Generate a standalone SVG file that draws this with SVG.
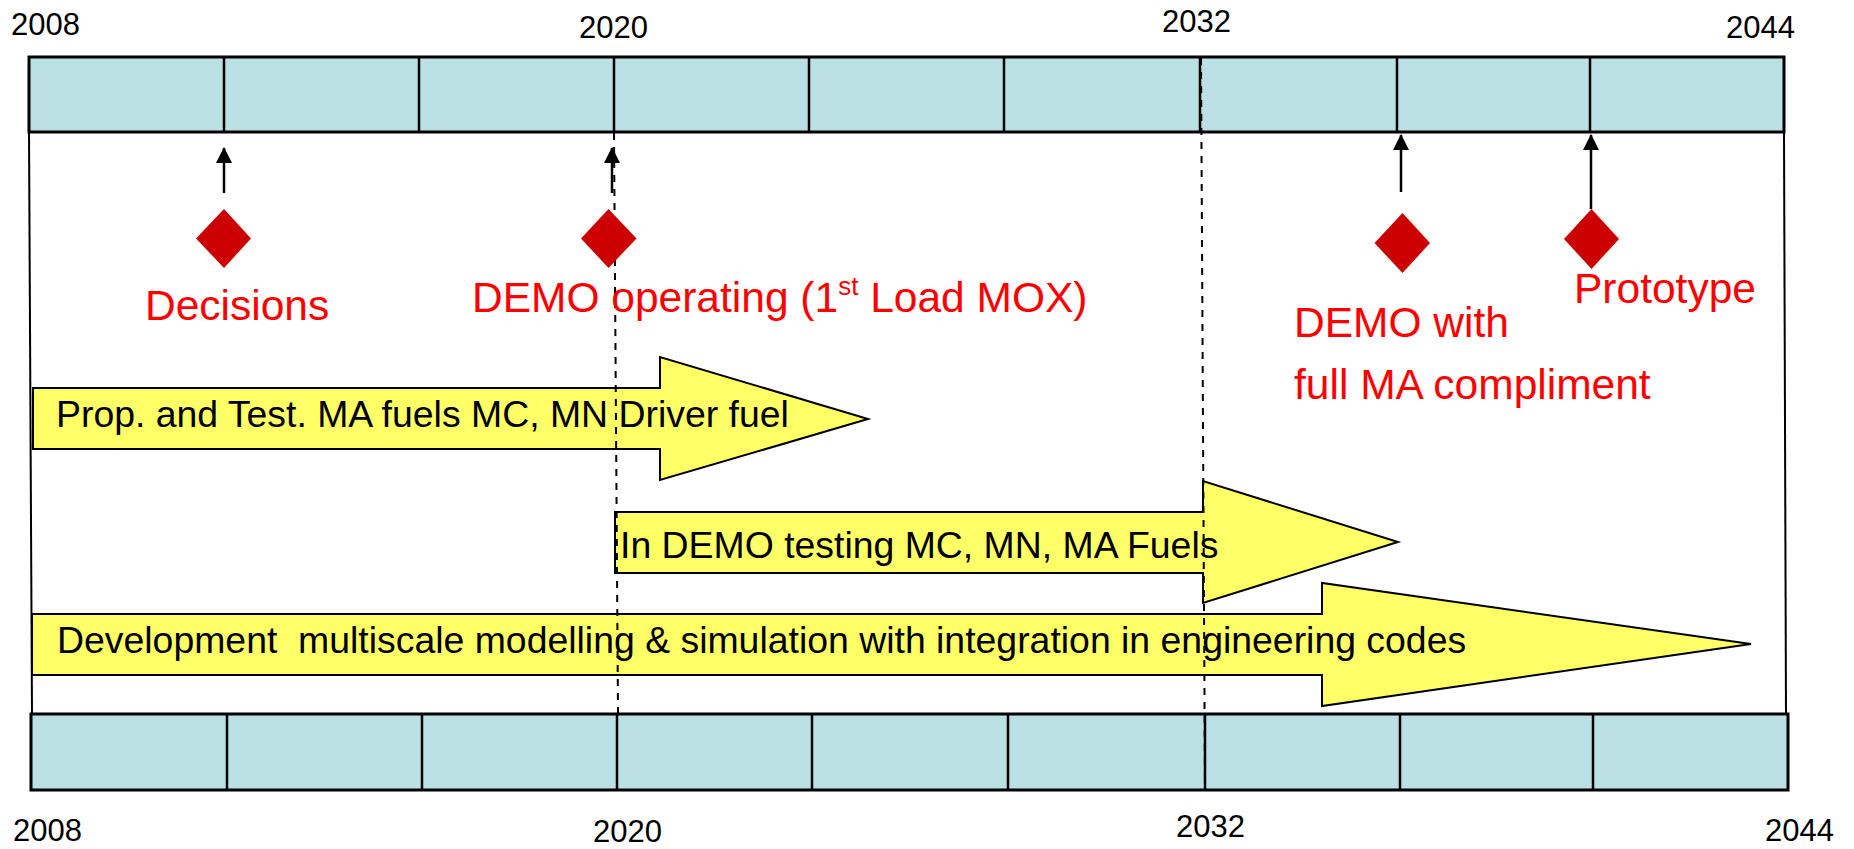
<svg xmlns="http://www.w3.org/2000/svg" width="1854" height="849" viewBox="0 0 1854 849">
<defs>
<style>
.bar{fill:#BAE0E3;stroke:#000;stroke-width:3}
.div{stroke:#000;stroke-width:2.5}
.frame{stroke:#000;stroke-width:2;fill:none}
.dash{stroke:#000;stroke-width:2;stroke-dasharray:7,7;fill:none}
.act{fill:#FFFF66;stroke:#000;stroke-width:2}
.actt{font-family:"Liberation Sans",Arial,sans-serif;font-size:37.4px;fill:#000}
.year{font-family:"Liberation Sans",Arial,sans-serif;font-size:31px;fill:#000}
.lbl{font-family:"Liberation Sans",Arial,sans-serif;font-size:42.5px;fill:#FF0000}
.dia{fill:#CC0000}
.up{stroke:#000;stroke-width:2.5;fill:none;marker-end:url(#ah)}
</style>
<marker id="ah" markerUnits="userSpaceOnUse" viewBox="0 0 16 16" refX="15" refY="8" markerWidth="16" markerHeight="16" orient="auto">
<path d="M0,0 L16,8 L0,16 z" fill="#000"/>
</marker>
</defs>
<rect width="1854" height="849" fill="#fff"/>

<g id="top-timeline">
<rect class="bar" x="29" y="57" width="1755" height="75"/>
<line class="div" x1="224" y1="57" x2="224" y2="132"/>
<line class="div" x1="419" y1="57" x2="419" y2="132"/>
<line class="div" x1="614" y1="57" x2="614" y2="132"/>
<line class="div" x1="809" y1="57" x2="809" y2="132"/>
<line class="div" x1="1004" y1="57" x2="1004" y2="132"/>
<line class="div" x1="1200" y1="57" x2="1200" y2="132"/>
<line class="div" x1="1397" y1="57" x2="1397" y2="132"/>
<line class="div" x1="1590" y1="57" x2="1590" y2="132"/>
<text class="year" x="11" y="35">2008</text>
<text class="year" x="579" y="38">2020</text>
<text class="year" x="1162" y="32">2032</text>
<text class="year" x="1726" y="38">2044</text>
</g>

<g id="bottom-timeline">
<rect class="bar" x="31" y="714" width="1757" height="76"/>
<line class="div" x1="227" y1="714" x2="227" y2="790"/>
<line class="div" x1="422" y1="714" x2="422" y2="790"/>
<line class="div" x1="617" y1="714" x2="617" y2="790"/>
<line class="div" x1="812" y1="714" x2="812" y2="790"/>
<line class="div" x1="1008" y1="714" x2="1008" y2="790"/>
<line class="div" x1="1205" y1="714" x2="1205" y2="790"/>
<line class="div" x1="1400" y1="714" x2="1400" y2="790"/>
<line class="div" x1="1593" y1="714" x2="1593" y2="790"/>
<text class="year" x="13" y="841">2008</text>
<text class="year" x="593" y="842">2020</text>
<text class="year" x="1176" y="837">2032</text>
<text class="year" x="1765" y="841">2044</text>
</g>

<g id="frame">
<line class="frame" x1="29" y1="132" x2="32" y2="714"/>
<line class="frame" x1="1784" y1="132" x2="1786" y2="714"/>
</g>

<g id="act-prop-test">
<polygon class="act" points="33,388 660,388 660,357 868,419 660,480 660,449 33,449"/>
<text class="actt" x="56" y="427">Prop. and Test. MA fuels MC, MN Driver fuel</text>
</g>

<g id="act-demo-testing">
<polygon class="act" points="615,512 1203,512 1203,481 1398,542 1203,603 1203,573 615,573"/>
<text class="actt" x="620" y="558">In DEMO testing MC, MN, MA Fuels</text>
</g>

<g id="act-development">
<polygon class="act" points="32,614 1322,614 1322,583 1751,644 1322,706 1322,675 32,675"/>
<text class="actt" x="57" y="653" xml:space="preserve">Development  multiscale modelling &amp; simulation with integration in engineering codes</text>
</g>

<g id="connectors">
<line class="dash" x1="614" y1="133" x2="618" y2="714"/>
<line class="dash" x1="1201" y1="58" x2="1205" y2="790"/>
<line class="up" x1="224" y1="193" x2="224" y2="148"/>
<line class="up" x1="612" y1="193" x2="612" y2="148"/>
<line class="up" x1="1401" y1="192" x2="1401" y2="135"/>
<line class="up" x1="1591" y1="209" x2="1591" y2="135"/>
</g>

<g id="m-decisions">
<polygon class="dia" points="224,209 251,238.5 224,268 196,238.5"/>
<text class="lbl" x="145" y="320">Decisions</text>
</g>

<g id="m-demo-operating">
<polygon class="dia" points="608.5,209 636.5,238.5 608.5,268 581,238.5"/>
<text class="lbl" x="472" y="312">DEMO operating (1<tspan font-size="26" dy="-17">st</tspan><tspan dy="17"> Load MOX)</tspan></text>
</g>

<g id="m-demo-full">
<polygon class="dia" points="1402.5,213 1430,243 1402.5,273 1374.5,243"/>
<text class="lbl" x="1294" y="337">DEMO with</text>
<text class="lbl" x="1294" y="399">full MA compliment</text>
</g>

<g id="m-prototype">
<polygon class="dia" points="1591.5,209 1619,239 1591.5,269 1564,239"/>
<text class="lbl" x="1574" y="303">Prototype</text>
</g>
</svg>
